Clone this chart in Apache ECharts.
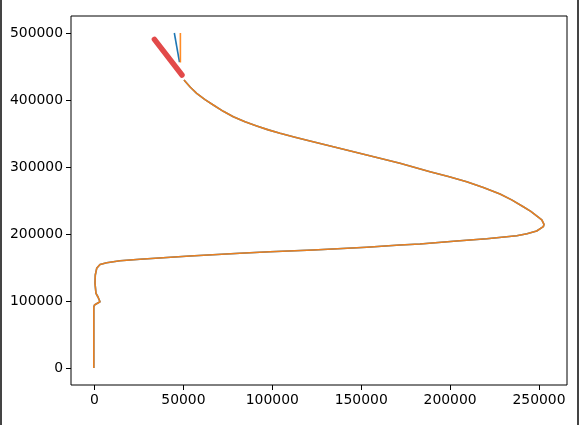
<!DOCTYPE html>
<html>
<head>
<meta charset="utf-8">
<script src="https://cdn.jsdelivr.net/npm/echarts@6/dist/echarts.min.js"></script>
<style>html,body{margin:0;padding:0;background:#fff}#c{width:579px;height:425px}</style>
</head>
<body>
<div id="c"></div>
<script>
// Main curve (x, y)
const mainX = [-400, -400, -400, 0, 1400, 3090, 1970, 840, 280, 450, 1240, 3090, 6860, 14340, 25590, 53710, 81830, 93080, 98710, 123060, 153090, 171820, 183070, 203710, 220590, 237460, 243250, 248710, 252420, 252810, 251580, 245390, 241170, 234620, 228060, 218700, 209340, 199020, 188690, 171820, 153090, 134310, 121200, 112770, 104330, 97780, 91230, 84650, 78070, 72440, 66820, 62150, 57480, 53910, 50340];
const mainY = [0, 50000, 91000, 94000, 96270, 98950, 105970, 111490, 126400, 138800, 148800, 154470, 157160, 160000, 162240, 167160, 171190, 172680, 173580, 176120, 180140, 183580, 185070, 189550, 192980, 197460, 200440, 204470, 210890, 214470, 221040, 233870, 240740, 250890, 259700, 269540, 278050, 285960, 293000, 305500, 317900, 330300, 338800, 344300, 350300, 355400, 361200, 367400, 375100, 383100, 392500, 400600, 410000, 419100, 429850];
// Short top segments
const blueTopX = [44900, 47800];
const blueTopY = [500000, 456500];
const orangeTopX = [48300, 48300];
const orangeTopY = [500000, 456000];
const redX = [33700, 49200];
const redY = [490500, 437300];
// Tick labels
const xTicks = [0, 50000, 100000, 150000, 200000, 250000];
const yTicks = [0, 100000, 200000, 300000, 400000, 500000];

const zip = (xs, ys) => xs.map((x, i) => [x, ys[i]]);

const chart = echarts.init(document.getElementById('c'), null, {renderer: 'canvas'});
const labelFont = {color: '#000', fontSize: 13.9, fontFamily: 'DejaVu Sans'};
chart.setOption({
  animation: false,
  backgroundColor: '#fff',
  grid: {left: 71, right: 12, top: 16, bottom: 40, show: true, borderColor: '#000', borderWidth: 1, backgroundColor: 'transparent'},
  xAxis: {
    type: 'value', min: -13217, max: 265748,
    axisLine: {show: false, onZero: false},
    splitLine: {show: false},
    axisTick: {show: true, inside: false, length: 5, lineStyle: {color: '#000', width: 1}, customValues: xTicks},
    axisLabel: Object.assign({margin: 8, customValues: xTicks, formatter: v => String(v)}, labelFont)
  },
  yAxis: {
    type: 'value', min: -25373, max: 525373,
    axisLine: {show: false, onZero: false},
    splitLine: {show: false},
    axisTick: {show: true, inside: false, length: 5, lineStyle: {color: '#000', width: 1}, customValues: yTicks},
    axisLabel: Object.assign({margin: 8, customValues: yTicks, formatter: v => String(v)}, labelFont)
  },
  graphic: [
    {type: 'rect', shape: {x: 0, y: 0, width: 2, height: 425}, style: {fill: '#444'}, z: 100},
    {type: 'rect', shape: {x: 577, y: 0, width: 2, height: 425}, style: {fill: '#444'}, z: 100}
  ],
  series: [
    {type: 'line', data: zip(mainX, mainY), showSymbol: false, symbol: 'none', lineStyle: {color: '#1f77b4', width: 1.6, join: 'round'}, z: 2},
    {type: 'line', data: zip(blueTopX, blueTopY), showSymbol: false, symbol: 'none', lineStyle: {color: '#1f77b4', width: 1.6}, z: 2},
    {type: 'line', data: zip(mainX, mainY), showSymbol: false, symbol: 'none', lineStyle: {color: '#ff7f0e', opacity: 0.9, width: 1.6, join: 'round'}, z: 3},
    {type: 'line', data: zip(orangeTopX, orangeTopY), showSymbol: false, symbol: 'none', lineStyle: {color: '#ff7f0e', opacity: 0.9, width: 1.6}, z: 3},
    {type: 'line', data: zip(redX, redY), showSymbol: false, symbol: 'none', lineStyle: {color: '#e24a4a', width: 5.5, cap: 'round'}, z: 4}
  ]
});
</script>
</body>
</html>
